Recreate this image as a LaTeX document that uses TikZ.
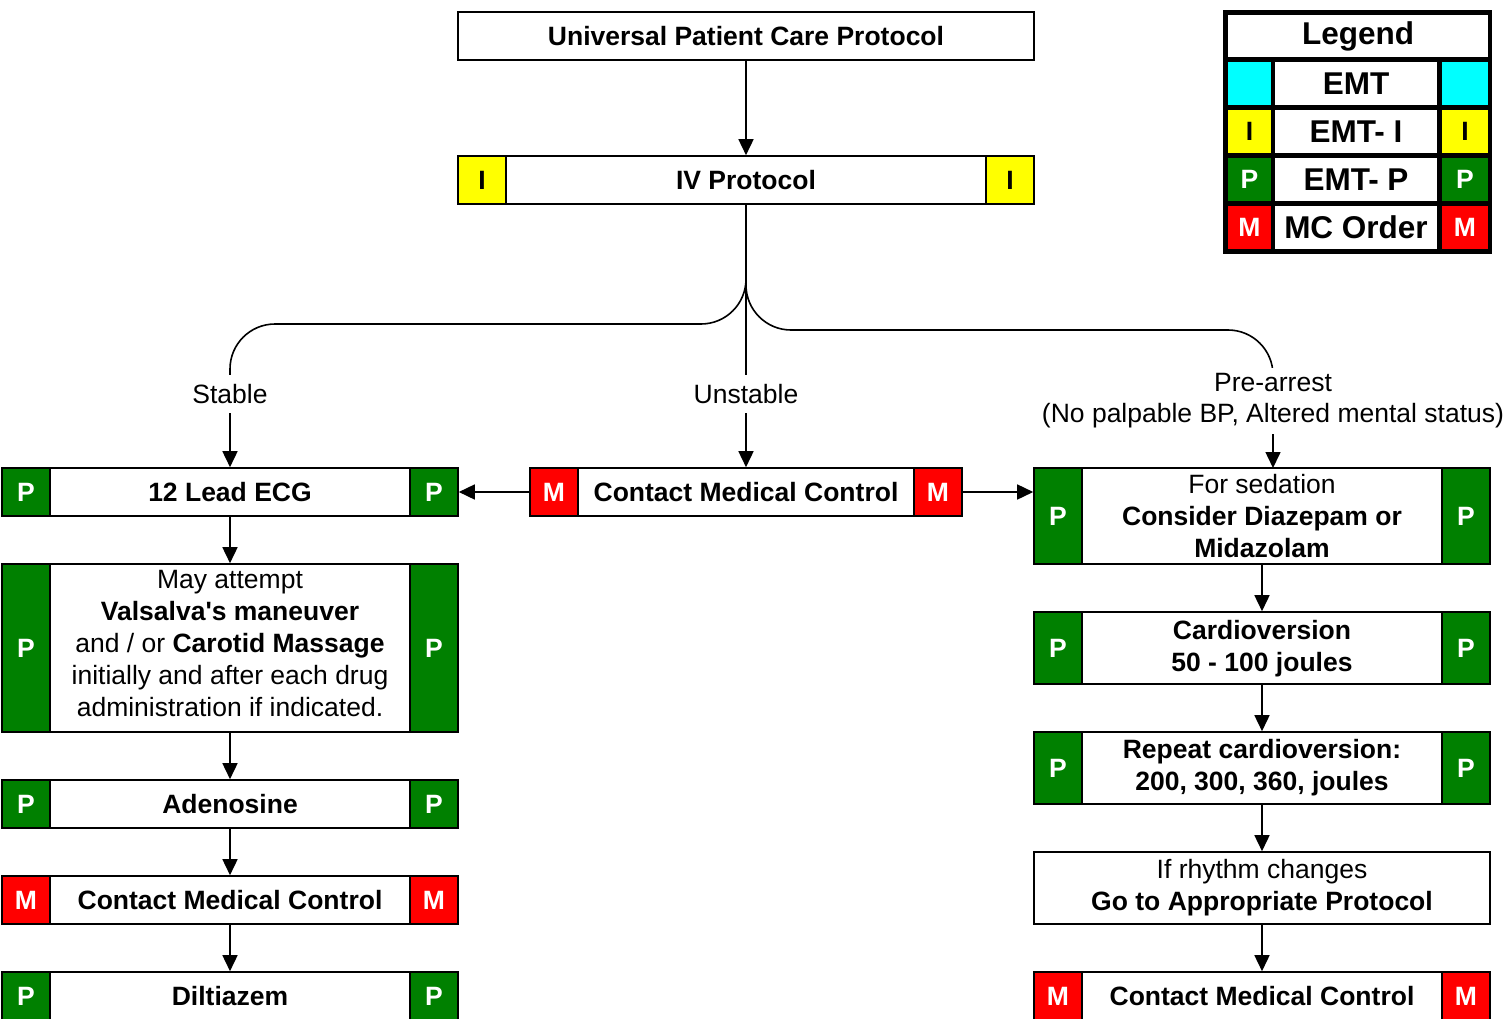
\documentclass[tikz,border=0pt]{standalone}
\usepackage{fontspec}
\setmainfont{Liberation Sans}
\usetikzlibrary{arrows.meta}
\definecolor{pgreen}{HTML}{008000}
\definecolor{mred}{HTML}{FF0000}
\definecolor{iyellow}{HTML}{FFFF00}
\definecolor{ecyan}{HTML}{00FFFF}
\newcommand\tagpair[5]{%
  \node[badge=#3, minimum height=#2, text=#5, anchor=west] (#1-l) at (#1.west) {#4};
  \node[badge=#3, minimum height=#2, text=#5, anchor=east] (#1-r) at (#1.east) {#4};}
\begin{document}
\begin{tikzpicture}[x=1pt,y=-1pt,
  box/.style={draw, line width=1.6pt, fill=white, inner sep=0pt, align=center,
    font=\fontsize{26.5}{32}\selectfont},
  txt/.style={inner sep=0pt, align=center, font=\fontsize{26.5}{32}\selectfont},
  badge/.style={draw, line width=1.6pt, fill=#1, minimum width=48pt, inner sep=0pt,
    font=\fontsize{26.5}{32}\selectfont\bfseries},
  conn/.style={line width=1.6pt, -{Triangle[length=16pt,width=15pt]}},
  lbl/.style={fill=white, inner sep=0pt, align=center, font=\fontsize{26.5}{31}\selectfont},
  legcell/.style={fill=#1, inner sep=0pt, minimum height=43pt, font=\fontsize{26.5}{32}\selectfont\bfseries},
  legtext/.style={fill=white, inner sep=0pt, minimum height=43pt, minimum width=162pt,
    font=\fontsize{31.5}{36}\selectfont\bfseries}]
\useasboundingbox (0,0) rectangle (1510,1019);

% top
\node[box, minimum width=576pt, minimum height=48pt] (top) at (746,36) {\bfseries Universal Patient Care Protocol};
\node[box, minimum width=576pt, minimum height=48pt] (iv) at (746,180) {\bfseries IV Protocol};
\tagpair{iv}{48pt}{iyellow}{I}{black}

% left column
\node[box, minimum width=456pt, minimum height=48pt] (ecg) at (230,492) {\bfseries 12 Lead ECG};
\tagpair{ecg}{48pt}{pgreen}{P}{white}
\node[box, minimum width=456pt, minimum height=168pt] (vals) at (230,648) {};
\node[txt] (valstxt) at (230,644) {May attempt\\\textbf{Valsalva\textquotesingle s maneuver}\\and / or \textbf{Carotid Massage}\\initially and after each drug\\administration if indicated.};
\tagpair{vals}{168pt}{pgreen}{P}{white}
\node[box, minimum width=456pt, minimum height=48pt] (aden) at (230,804) {\bfseries Adenosine};
\tagpair{aden}{48pt}{pgreen}{P}{white}
\node[box, minimum width=456pt, minimum height=48pt] (cmcl) at (230,900) {\bfseries Contact Medical Control};
\tagpair{cmcl}{48pt}{mred}{M}{white}
\node[box, minimum width=456pt, minimum height=48pt] (dil) at (230,996) {\bfseries Diltiazem};
\tagpair{dil}{48pt}{pgreen}{P}{white}

% center
\node[box, minimum width=432pt, minimum height=48pt] (cmc) at (746,492) {\bfseries Contact Medical Control};
\tagpair{cmc}{48pt}{mred}{M}{white}

% right column
\node[box, minimum width=456pt, minimum height=96pt] (sed) at (1262,516) {For sedation\\\textbf{Consider Diazepam or}\\\textbf{Midazolam}};
\tagpair{sed}{96pt}{pgreen}{P}{white}
\node[box, minimum width=456pt, minimum height=72pt] (card) at (1262,648) {};
\node[txt] (cardtxt) at (1262,649) {\textbf{Cardioversion}\\\textbf{50 - 100 joules}};
\tagpair{card}{72pt}{pgreen}{P}{white}
\node[box, minimum width=456pt, minimum height=72pt] (rep) at (1262,768) {\textbf{Repeat cardioversion:}\\\textbf{200, 300, 360, joules}};
\tagpair{rep}{72pt}{pgreen}{P}{white}
\node[box, minimum width=456pt, minimum height=72pt] (rhy) at (1262,888) {If rhythm changes\\\textbf{Go to Appropriate Protocol}};
\node[box, minimum width=456pt, minimum height=48pt] (cmcr) at (1262,996) {\bfseries Contact Medical Control};
\tagpair{cmcr}{48pt}{mred}{M}{white}

% legend
\node[fill=black, inner sep=0pt, minimum width=269pt, minimum height=244pt] (leg) at (1357.5,132) {};
\node[fill=white, inner sep=0pt, minimum width=260pt, minimum height=42pt, font=\fontsize{31.5}{36}\selectfont\bfseries] (legh) at (1358,36) {Legend};
\node[legcell=ecyan, minimum width=43pt] (l1a) at (1249.5,83.5) {};
\node[legtext] (l1b) at (1356,83.5) {EMT};
\node[legcell=ecyan, minimum width=46pt] (l1c) at (1465,83.5) {};
\node[legcell=iyellow, minimum width=43pt] (l2a) at (1249.5,131.5) {I};
\node[legtext] (l2b) at (1356,131.5) {EMT- I};
\node[legcell=iyellow, minimum width=46pt] (l2c) at (1465,131.5) {I};
\node[legcell=pgreen, minimum width=43pt, text=white] (l3a) at (1249.5,179.5) {P};
\node[legtext] (l3b) at (1356,179.5) {EMT- P};
\node[legcell=pgreen, minimum width=46pt, text=white] (l3c) at (1465,179.5) {P};
\node[legcell=mred, minimum width=43pt, text=white] (l4a) at (1249.5,227.5) {M};
\node[legtext] (l4b) at (1356,227.5) {MC Order};
\node[legcell=mred, minimum width=46pt, text=white] (l4c) at (1465,227.5) {M};

% connectors
\coordinate (ly) at (0,324);
\coordinate (ry) at (0,330);
\coordinate (sedin) at (1273,468);
\draw[conn] (top.south) -- (iv.north);
\draw[conn, rounded corners=45pt] (iv.south) |- (ly -| ecg.north) -- (ecg.north);
\draw[conn] (iv.south) -- (cmc.north);
\draw[conn, rounded corners=45pt] (iv.south) |- (ry -| sedin) -- (sedin);
\draw[conn] (cmc.west) -- (ecg.east);
\draw[conn] (cmc.east) -- (cmc.east -| sed.west);
\draw[conn] (ecg.south) -- (vals.north);
\draw[conn] (vals.south) -- (aden.north);
\draw[conn] (aden.south) -- (cmcl.north);
\draw[conn] (cmcl.south) -- (dil.north);
\draw[conn] (sed.south) -- (card.north);
\draw[conn] (card.south) -- (rep.north);
\draw[conn] (rep.south) -- (rhy.north);
\draw[conn] (rhy.south) -- (cmcr.north);

% labels
\node[lbl, minimum height=38pt, minimum width=80pt] (lstable) at (230,394) {Stable};
\node[lbl, minimum height=38pt, minimum width=110pt] (lunst) at (746,394) {Unstable};
\node[lbl, minimum height=66pt] (lpre) at (1273,401) {Pre-arrest\\(No palpable BP, Altered mental status)};
\end{tikzpicture}
\end{document}
